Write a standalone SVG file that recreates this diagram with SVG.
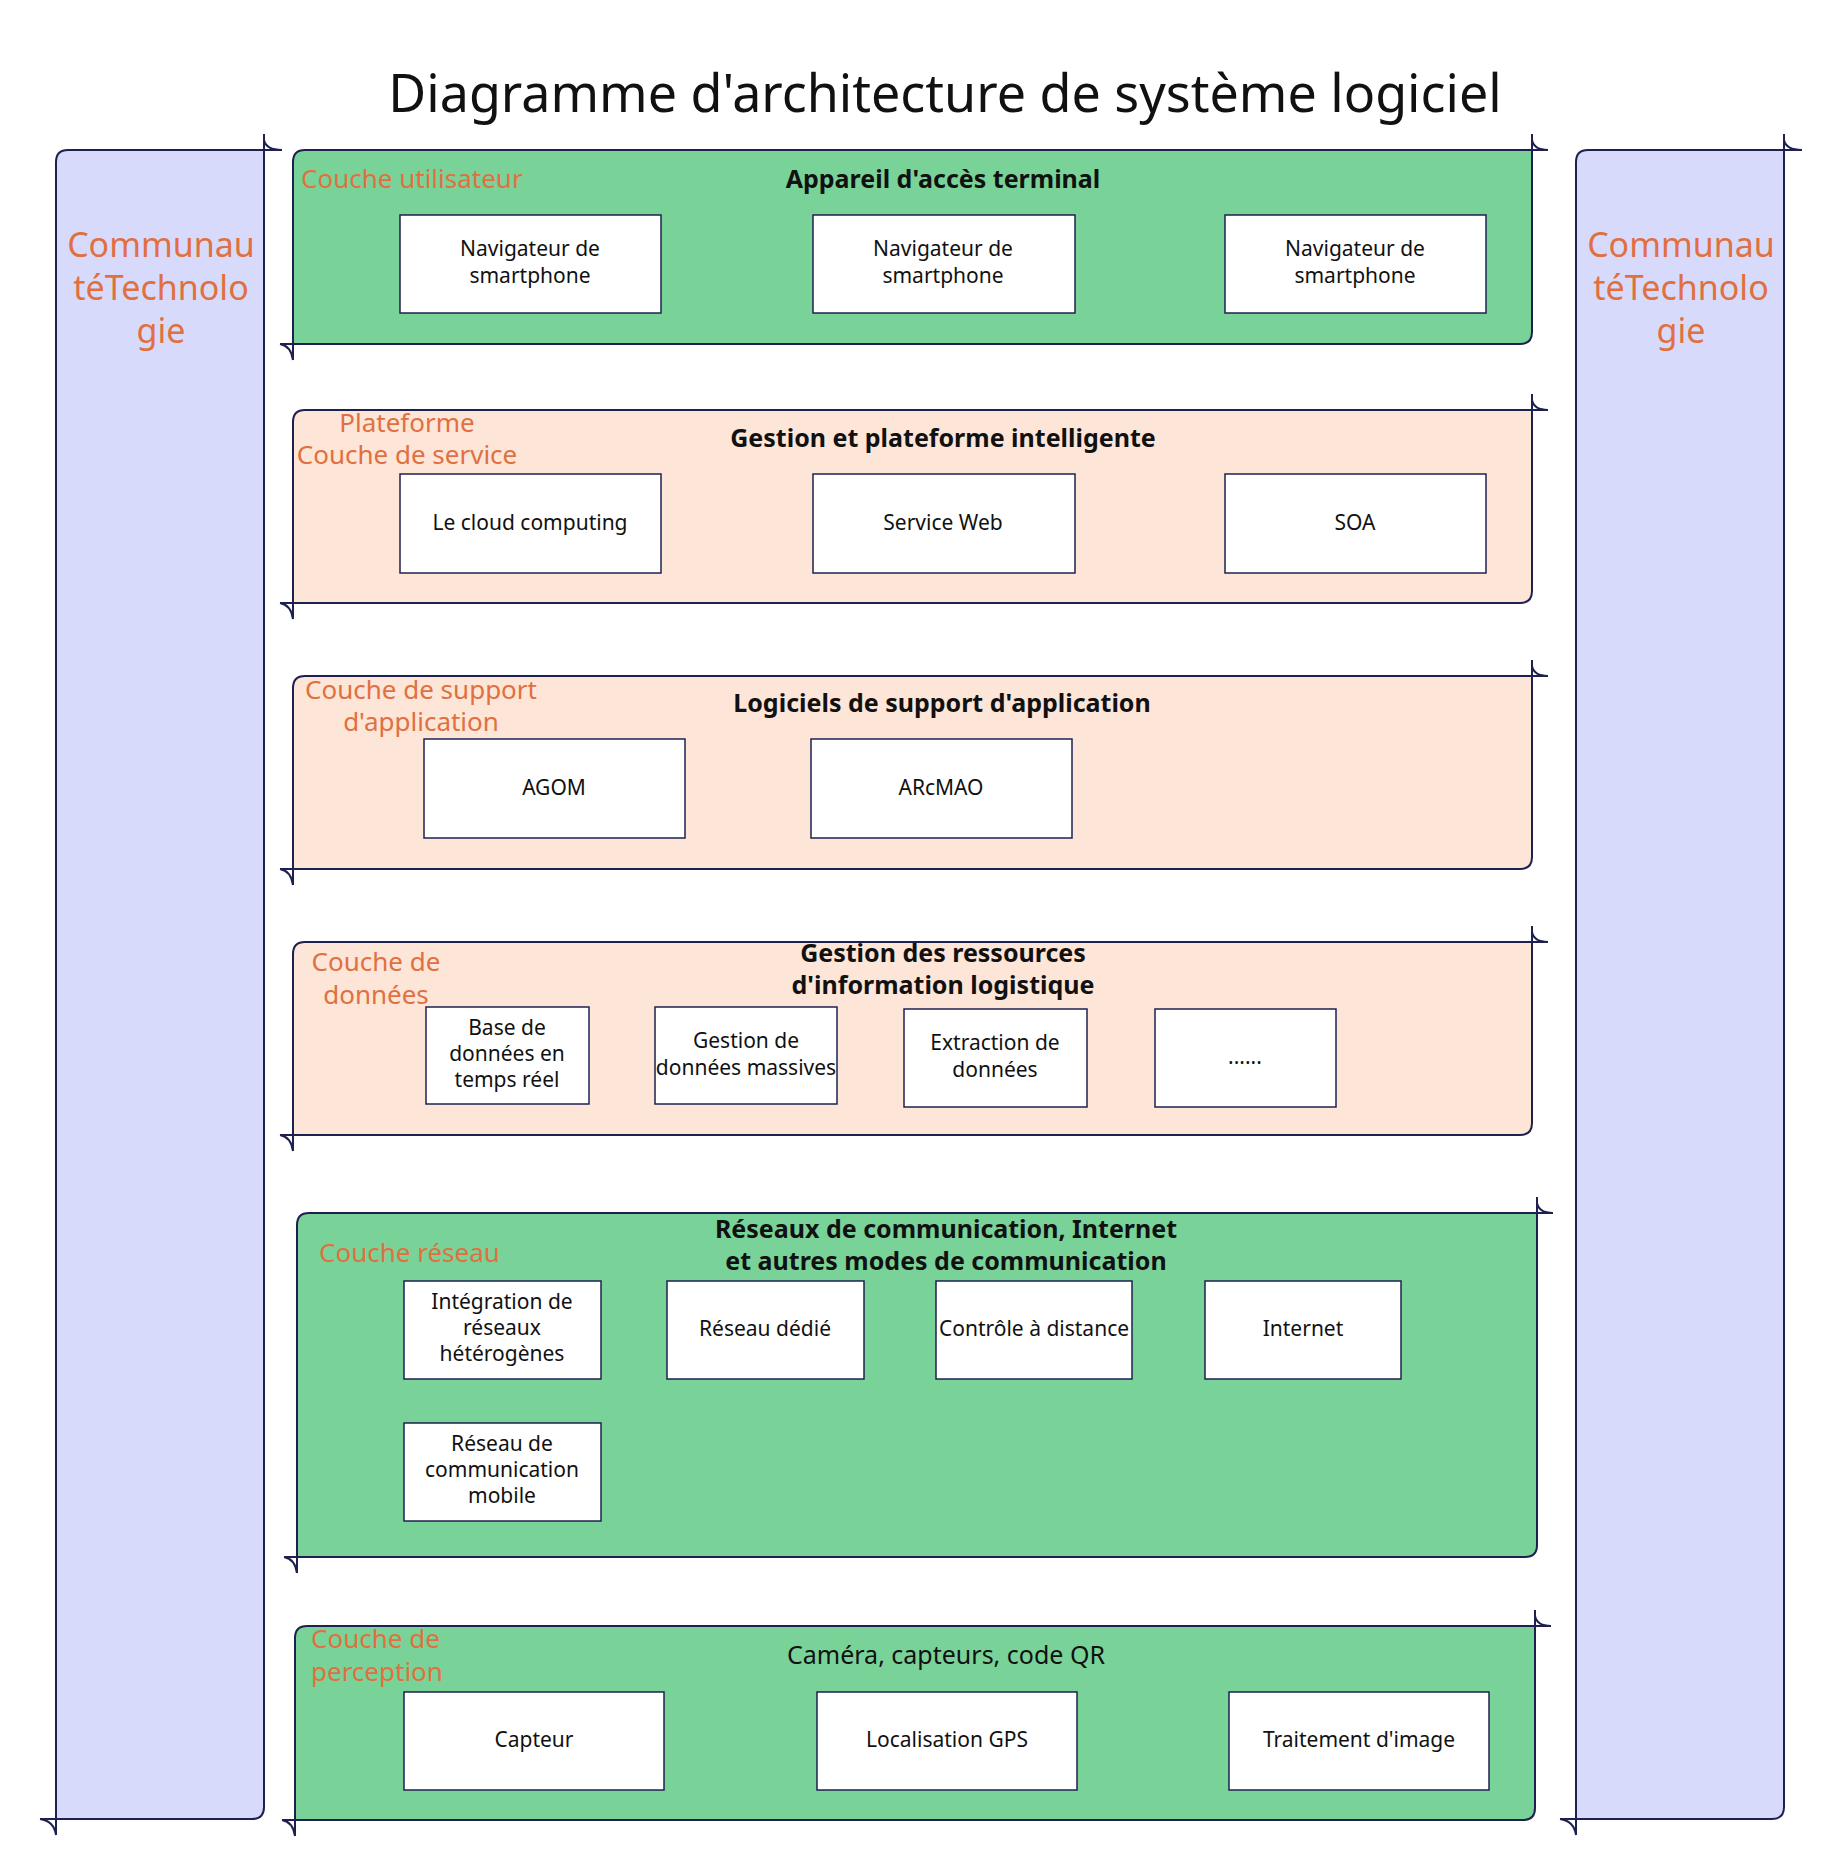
<svg xmlns="http://www.w3.org/2000/svg" width="1839" height="1873" viewBox="0 0 1839 1873">
<style>
text{font-family:"Noto Sans","Open Sans","Liberation Sans",sans-serif}
.s{stroke:#1e2150;stroke-width:2;fill:none}
.b{fill:#fff;stroke:#1e2150;stroke-width:1.5}
.t{font-size:21px;fill:#111;text-anchor:middle}
.h{font-size:25px;font-weight:bold;fill:#111;text-anchor:middle}
.o{font-size:26px;fill:#e07040}
.om{font-size:26px;fill:#e07040;text-anchor:middle}
.big{font-size:34px;fill:#e07040;text-anchor:middle}
.g{fill:#79d399}.p{fill:#fde5d8}.v{fill:#d8dafc}
</style>
<rect width="1839" height="1873" fill="#fff"/>
<text x="945" y="112" style="font-size:52px;fill:#111;text-anchor:middle">Diagramme d'architecture de système logiciel</text>

<g id="left-panel">
<path class="v" d="M68,150 H264 V1807 Q264,1819 252,1819 H56 V162 Q56,150 68,150Z"/>
<path class="s" d="M264,134 V1807 Q264,1819 252,1819 H56 V162 Q56,150 68,150 H282 M264,140 Q266,150 282,150 M56,1835 V1819 H40 M40,1819 Q54,1821 56,1835"/>
<text class="big" x="161" y="257">Communau</text><text class="big" x="161" y="300">téTechnolo</text><text class="big" x="161" y="343">gie</text>
</g>
<g id="right-panel">
<path class="v" d="M1588,150 H1784 V1807 Q1784,1819 1772,1819 H1576 V162 Q1576,150 1588,150Z"/>
<path class="s" d="M1784,134 V1807 Q1784,1819 1772,1819 H1576 V162 Q1576,150 1588,150 H1802 M1784,140 Q1786,150 1802,150 M1576,1835 V1819 H1560 M1560,1819 Q1574,1821 1576,1835"/>
<text class="big" x="1681" y="257">Communau</text><text class="big" x="1681" y="300">téTechnolo</text><text class="big" x="1681" y="343">gie</text>
</g>

<g id="layer-user">
<path class="g" d="M305,150 H1532 V332 Q1532,344 1520,344 H293 V162 Q293,150 305,150Z"/>
<path class="s" d="M1532,134 V332 Q1532,344 1520,344 H293 V162 Q293,150 305,150 H1548 M1532,140 Q1534,150 1548,150 M293,360 V344 H280 M280,344 Q291,346 293,360"/>
<text class="o" x="301" y="188">Couche utilisateur</text>
<text class="h" x="943" y="188">Appareil d'accès terminal</text>
<rect class="b" x="400" y="215" width="261" height="98"/><text class="t" x="530" y="256">Navigateur de</text><text class="t" x="530" y="283">smartphone</text>
<rect class="b" x="813" y="215" width="262" height="98"/><text class="t" x="943" y="256">Navigateur de</text><text class="t" x="943" y="283">smartphone</text>
<rect class="b" x="1225" y="215" width="261" height="98"/><text class="t" x="1355" y="256">Navigateur de</text><text class="t" x="1355" y="283">smartphone</text>
</g>

<g id="layer-service">
<path class="p" d="M305,410 H1532 V591 Q1532,603 1520,603 H293 V422 Q293,410 305,410Z"/>
<path class="s" d="M1532,394 V591 Q1532,603 1520,603 H293 V422 Q293,410 305,410 H1548 M1532,400 Q1534,410 1548,410 M293,619 V603 H280 M280,603 Q291,605 293,619"/>
<text class="om" x="407" y="432">Plateforme</text><text class="om" x="407" y="464">Couche de service</text>
<text class="h" x="943" y="447">Gestion et plateforme intelligente</text>
<rect class="b" x="400" y="474" width="261" height="99"/><text class="t" x="530" y="530">Le cloud computing</text>
<rect class="b" x="813" y="474" width="262" height="99"/><text class="t" x="943" y="530">Service Web</text>
<rect class="b" x="1225" y="474" width="261" height="99"/><text class="t" x="1355" y="530">SOA</text>
</g>

<g id="layer-support">
<path class="p" d="M305,676 H1532 V857 Q1532,869 1520,869 H293 V688 Q293,676 305,676Z"/>
<path class="s" d="M1532,660 V857 Q1532,869 1520,869 H293 V688 Q293,676 305,676 H1548 M1532,666 Q1534,676 1548,676 M293,885 V869 H280 M280,869 Q291,871 293,885"/>
<text class="om" x="421" y="699">Couche de support</text><text class="om" x="421" y="731">d'application</text>
<text class="h" x="942" y="712">Logiciels de support d'application</text>
<rect class="b" x="424" y="739" width="261" height="99"/><text class="t" x="554" y="795">AGOM</text>
<rect class="b" x="811" y="739" width="261" height="99"/><text class="t" x="941" y="795">ARcMAO</text>
</g>

<g id="layer-data">
<path class="p" d="M305,942 H1532 V1123 Q1532,1135 1520,1135 H293 V954 Q293,942 305,942Z"/>
<path class="s" d="M1532,926 V1123 Q1532,1135 1520,1135 H293 V954 Q293,942 305,942 H1548 M1532,932 Q1534,942 1548,942 M293,1151 V1135 H280 M280,1135 Q291,1137 293,1151"/>
<text class="om" x="376" y="971">Couche de</text><text class="om" x="376" y="1004">données</text>
<text class="h" x="943" y="962">Gestion des ressources</text><text class="h" x="943" y="994">d'information logistique</text>
<rect class="b" x="426" y="1007" width="163" height="97"/><text class="t" x="507" y="1035">Base de</text><text class="t" x="507" y="1061">données en</text><text class="t" x="507" y="1087">temps réel</text>
<rect class="b" x="655" y="1007" width="182" height="97"/><text class="t" x="746" y="1048">Gestion de</text><text class="t" x="746" y="1075">données massives</text>
<rect class="b" x="904" y="1009" width="183" height="98"/><text class="t" x="995" y="1050">Extraction de</text><text class="t" x="995" y="1077">données</text>
<rect class="b" x="1155" y="1009" width="181" height="98"/><text class="t" x="1245" y="1064">......</text>
</g>

<g id="layer-network">
<path class="g" d="M309,1213 H1537 V1545 Q1537,1557 1525,1557 H297 V1225 Q297,1213 309,1213Z"/>
<path class="s" d="M1537,1197 V1545 Q1537,1557 1525,1557 H297 V1225 Q297,1213 309,1213 H1553 M1537,1203 Q1539,1213 1553,1213 M297,1573 V1557 H284 M284,1557 Q295,1559 297,1573"/>
<text class="o" x="319" y="1262">Couche réseau</text>
<text class="h" x="946" y="1238">Réseaux de communication, Internet</text><text class="h" x="946" y="1270">et autres modes de communication</text>
<rect class="b" x="404" y="1281" width="197" height="98"/><text class="t" x="502" y="1309">Intégration de</text><text class="t" x="502" y="1335">réseaux</text><text class="t" x="502" y="1361">hétérogènes</text>
<rect class="b" x="667" y="1281" width="197" height="98"/><text class="t" x="765" y="1336">Réseau dédié</text>
<rect class="b" x="936" y="1281" width="196" height="98"/><text class="t" x="1034" y="1336">Contrôle à distance</text>
<rect class="b" x="1205" y="1281" width="196" height="98"/><text class="t" x="1303" y="1336">Internet</text>
<rect class="b" x="404" y="1423" width="197" height="98"/><text class="t" x="502" y="1451">Réseau de</text><text class="t" x="502" y="1477">communication</text><text class="t" x="502" y="1503">mobile</text>
</g>

<g id="layer-perception">
<path class="g" d="M307,1626 H1535 V1808 Q1535,1820 1523,1820 H295 V1638 Q295,1626 307,1626Z"/>
<path class="s" d="M1535,1610 V1808 Q1535,1820 1523,1820 H295 V1638 Q295,1626 307,1626 H1551 M1535,1616 Q1537,1626 1551,1626 M295,1836 V1820 H282 M282,1820 Q293,1822 295,1836"/>
<text class="o" x="311" y="1648">Couche de</text><text class="o" x="311" y="1681">perception</text>
<text x="946" y="1664" style="font-size:25px;fill:#111;text-anchor:middle">Caméra, capteurs, code QR</text>
<rect class="b" x="404" y="1692" width="260" height="98"/><text class="t" x="534" y="1747">Capteur</text>
<rect class="b" x="817" y="1692" width="260" height="98"/><text class="t" x="947" y="1747">Localisation GPS</text>
<rect class="b" x="1229" y="1692" width="260" height="98"/><text class="t" x="1359" y="1747">Traitement d'image</text>
</g>
<g id="connectors"/>
</svg>
